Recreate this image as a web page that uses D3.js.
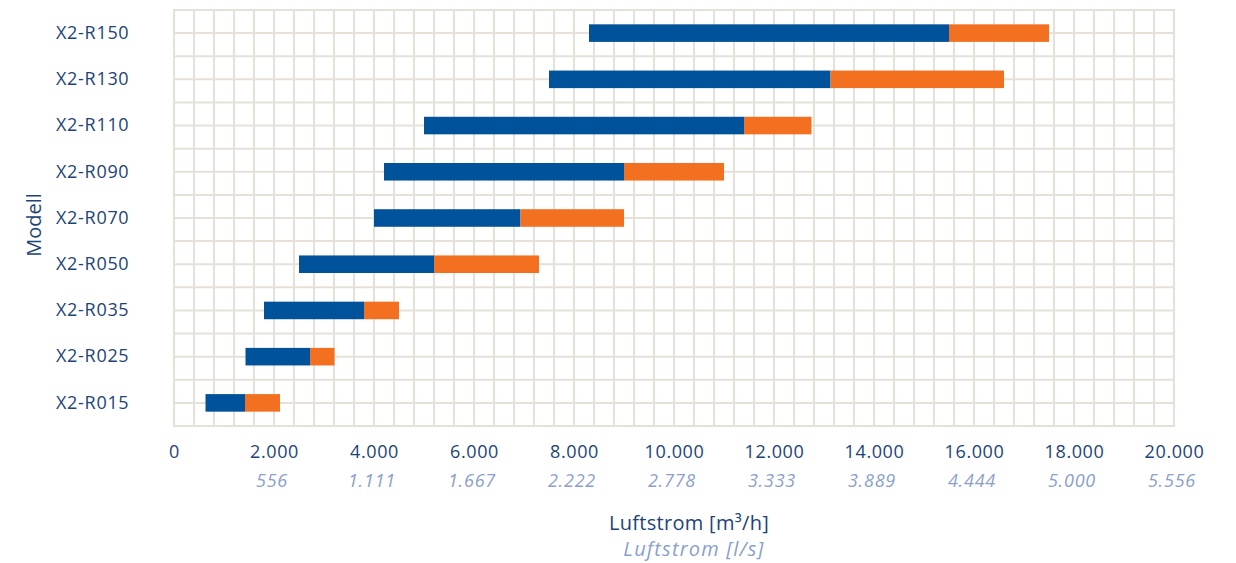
<!DOCTYPE html>
<html>
<head>
<meta charset="utf-8">
<script src="https://cdn.jsdelivr.net/npm/d3@7"></script>
<style>
  body { margin: 0; background: #ffffff; }
  text { font-family: "Open Sans", "Noto Sans", sans-serif; }
</style>
</head>
<body>
<script>
// models, bottom to top as in the chart
var models = ["X2-R015", "X2-R025", "X2-R035", "X2-R050", "X2-R070", "X2-R090", "X2-R110", "X2-R130", "X2-R150"]
var minFlow = [630, 1430, 1800, 2500, 4000, 4200, 5000, 7500, 8300]
var nomFlow = [1420, 2720, 3800, 5200, 6930, 9000, 11400, 13130, 15500]
var maxFlow = [2120, 3210, 4500, 7300, 9000, 11000, 12750, 16600, 17500]

var tickValues = [0, 2000, 4000, 6000, 8000, 10000, 12000, 14000, 16000, 18000, 20000]
var tickLabels = ["0", "2.000", "4.000", "6.000", "8.000", "10.000", "12.000", "14.000", "16.000", "18.000", "20.000"]
var lsLabels = ["", "556", "1.111", "1.667", "2.222", "2.778", "3.333", "3.889", "4.444", "5.000", "5.556"]

var W = 1236, H = 563
var plotLeft = 174, plotRight = 1174, plotTop = 10, plotBottom = 426

var svg = d3.select("body").append("svg")
  .attr("width", W)
  .attr("height", H)

var x = d3.scaleLinear().domain([0, 20000]).range([plotLeft, plotRight])
var y = d3.scaleBand().domain(models.slice().reverse()).range([plotTop, plotBottom]).padding(0)

var gridColor = "#e5e1d8"
var darkBlue = "#1d4477"
var lightBlue = "#8a9fcb"

/* GRILLE */

var vLines = d3.range(0, 20001, 400)
svg.selectAll("line.v")
  .data(vLines)
  .enter()
  .append("line")
  .attr("class", "v")
  .attr("x1", d => x(d)).attr("x2", d => x(d))
  .attr("y1", plotTop).attr("y2", plotBottom)
  .attr("stroke", gridColor)
  .attr("stroke-width", 2)

var hLines = []
y.domain().forEach(m => {
  hLines.push(y(m))
  hLines.push(y(m) + y.bandwidth() / 2)
})
hLines.push(plotBottom)

svg.selectAll("line.h")
  .data(hLines)
  .enter()
  .append("line")
  .attr("class", "h")
  .attr("x1", plotLeft - 1).attr("x2", plotRight + 1)
  .attr("y1", d => d).attr("y2", d => d)
  .attr("stroke", gridColor)
  .attr("stroke-width", 2)

/* BARRES */

var barH = y.bandwidth() * 0.38

svg.selectAll("rect.nom")
  .data(models)
  .enter()
  .append("rect")
  .attr("class", "nom")
  .attr("x", (d, i) => x(minFlow[i]))
  .attr("y", d => y(d) + y.bandwidth() / 2 - barH / 2)
  .attr("width", (d, i) => x(nomFlow[i]) - x(minFlow[i]))
  .attr("height", barH)
  .attr("fill", "#00529b")

svg.selectAll("rect.max")
  .data(models)
  .enter()
  .append("rect")
  .attr("class", "max")
  .attr("x", (d, i) => x(nomFlow[i]))
  .attr("y", d => y(d) + y.bandwidth() / 2 - barH / 2)
  .attr("width", (d, i) => x(maxFlow[i]) - x(nomFlow[i]))
  .attr("height", barH)
  .attr("fill", "#f37021")

/* AXES */

var xAxis = d3.axisBottom(x)
  .tickValues(tickValues)
  .tickFormat((d, i) => tickLabels[i])
  .tickSize(0)
  .tickPadding(0)

var gx = svg.append("g")
  .attr("transform", "translate(0," + 458 + ")")
  .call(xAxis)
gx.select(".domain").remove()
gx.selectAll("text")
  .attr("dy", 0)
  .attr("font-size", "18px")
  .attr("letter-spacing", "0.6px")
  .attr("font-family", "Open Sans")
  .attr("fill", darkBlue)

svg.selectAll("text.ls")
  .data(tickValues)
  .enter()
  .append("text")
  .attr("class", "ls")
  .attr("x", d => x(d) - 2)
  .attr("y", 487)
  .attr("text-anchor", "middle")
  .attr("font-size", "18px")
  .attr("letter-spacing", "0.8px")
  .attr("font-style", "italic")
  .attr("fill", lightBlue)
  .text((d, i) => lsLabels[i])

var yAxis = d3.axisLeft(y).tickSize(0).tickPadding(0)
var gy = svg.append("g")
  .attr("transform", "translate(" + 56 + ",0)")
  .call(yAxis)
gy.select(".domain").remove()
gy.selectAll("text")
  .attr("text-anchor", "start")
  .attr("font-size", "18px")
  .attr("letter-spacing", "0.7px")
  .attr("font-family", "Open Sans")
  .attr("fill", darkBlue)

/* TITRES */

svg.append("text")
  .attr("x", 689).attr("y", 530)
  .attr("text-anchor", "middle")
  .attr("font-size", "20px")
  .attr("letter-spacing", "0.3px")
  .attr("fill", darkBlue)
  .text("Luftstrom [m³/h]")

svg.append("text")
  .attr("x", 694).attr("y", 556)
  .attr("text-anchor", "middle")
  .attr("font-size", "20px")
  .attr("letter-spacing", "1.2px")
  .attr("font-style", "italic")
  .attr("fill", lightBlue)
  .text("Luftstrom [l/s]")

svg.append("text")
  .attr("transform", "translate(41," + 225 + ") rotate(-90)")
  .attr("text-anchor", "middle")
  .attr("font-size", "20px")
  .attr("fill", darkBlue)
  .text("Modell")
</script>
</body>
</html>
